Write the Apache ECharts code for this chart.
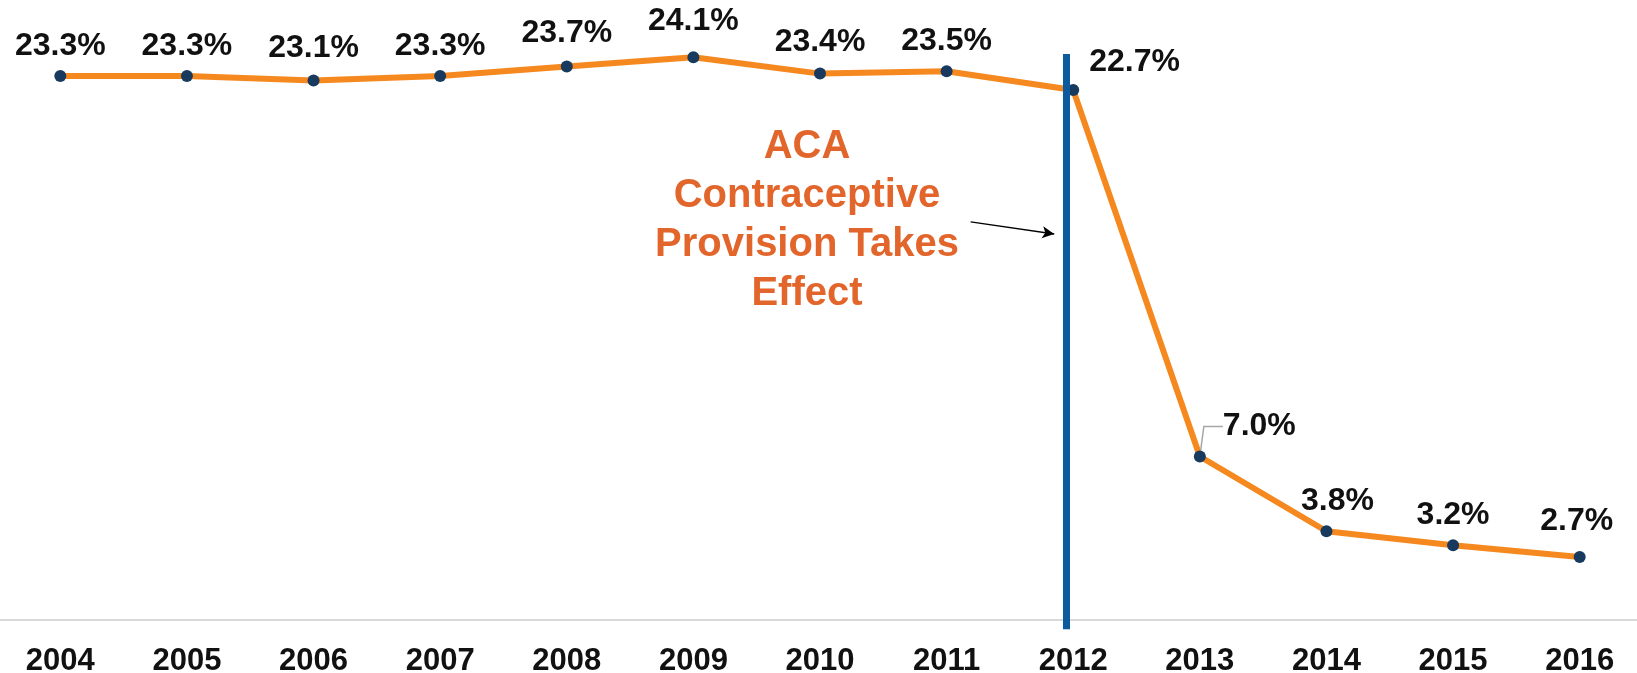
<!DOCTYPE html>
<html>
<head>
<meta charset="utf-8">
<script src="https://cdn.jsdelivr.net/npm/echarts@6/dist/echarts.min.js"></script>
<style>
html,body{margin:0;padding:0;background:#fff;}
#chart{width:1637px;height:673px;}
</style>
</head>
<body>
<div id="chart"></div>
<script>
const years = ['2004','2005','2006','2007','2008','2009','2010','2011','2012','2013','2014','2015','2016'];
const values = [23.3, 23.3, 23.1, 23.3, 23.7, 24.1, 23.4, 23.5, 22.7, 7.0, 3.8, 3.2, 2.7];
// policy line: position on year scale (0 = 2004) and value extent
const policyLineX = 7.942;
const policyLineY = [24.24, -0.4];
// arrow from annotation text to policy line: [year position, value]
const arrowFrom = [7.19, 17.05];
const arrowTo = [7.85, 16.53];
const annotationText = ['ACA', 'Contraceptive', 'Provision Takes', 'Effect'];

const chart = echarts.init(document.getElementById('chart'), null, {renderer: 'canvas'});

const FONT = 'Liberation Sans, Arial, sans-serif';
const labelFont = {fontFamily: FONT, fontWeight: 'bold', fontSize: 32, color: '#111'};

const pointData = values.map((v, i) => {
  const item = {value: v};
  if (i === 8) {
    item.label = {position: 'right'};
  } else if (i === 9) {
    item.label = {position: 'right'};
    item.labelLine = {show: true, length2: 19, lineStyle: {color: '#a6a6a6', width: 1.5}};
  }
  return item;
});

const labelShift = {
  2: {dx: 0, dy: -2}, 4: {dx: 0, dy: -3}, 5: {dx: 0, dy: -6}, 6: {dx: 0, dy: -1},
  8: {dx: 2, dy: -28}, 9: {dx: 9, dy: -30}, 10: {dx: 11, dy: 0}, 12: {dx: -3, dy: -6}
};

chart.setOption({
  animation: false,
  backgroundColor: '#ffffff',
  grid: {left: -3, right: -6, top: 36.25, bottom: 43.7, containLabel: false, outerBoundsMode: 'none'},
  xAxis: [{
    type: 'category',
    data: years,
    boundaryGap: true,
    axisLine: {show: true, onZero: true, lineStyle: {color: '#d9d9d9', width: 2}},
    axisTick: {show: false},
    axisLabel: {margin: 17, fontFamily: FONT, fontWeight: 'bold', fontSize: 31, color: '#111'},
    splitLine: {show: false}
  }, {
    type: 'value',
    min: -0.5,
    max: 12.5,
    show: false,
    splitLine: {show: false}
  }],
  yAxis: {
    type: 'value',
    min: -0.4,
    max: 25,
    show: false,
    splitLine: {show: false}
  },
  graphic: [{
    type: 'text',
    x: 807,
    y: 122,
    style: {
      text: annotationText.join('\n'),
      textAlign: 'center',
      textVerticalAlign: 'top',
      fontFamily: FONT,
      fontWeight: 'bold',
      fontSize: 40,
      lineHeight: 49,
      fill: '#e2662b'
    },
    z: 10
  }],
  series: [{
    type: 'line',
    data: values,
    xAxisIndex: 0,
    showSymbol: false,
    z: 2,
    lineStyle: {color: '#f5891f', width: 6},
    silent: true
  }, {
    type: 'line',
    data: [],
    xAxisIndex: 1,
    z: 3,
    markLine: {
      silent: true,
      symbol: ['none', 'none'],
      label: {show: false},
      data: [[
        {coord: [policyLineX, policyLineY[0]], lineStyle: {color: '#0d5a9c', width: 7, type: 'solid'}},
        {coord: [policyLineX, policyLineY[1]]}
      ], [
        {coord: arrowFrom, symbol: 'none', lineStyle: {color: '#000', width: 1.5, type: 'solid'}},
        {coord: arrowTo, symbol: 'arrow', symbolSize: [9, 12]}
      ]]
    }
  }, {
    type: 'scatter',
    data: pointData,
    xAxisIndex: 0,
    symbol: 'circle',
    symbolSize: 12,
    z: 4,
    itemStyle: {color: '#173a5e', borderWidth: 0, opacity: 1},
    label: Object.assign({show: true, position: 'top', distance: 8, formatter: p => p.value.toFixed(1) + '%'}, labelFont),
    labelLayout: function (params) {
      const s = labelShift[params.dataIndex];
      return s ? {dx: s.dx, dy: s.dy} : {};
    }
  }]
});
</script>
</body>
</html>
